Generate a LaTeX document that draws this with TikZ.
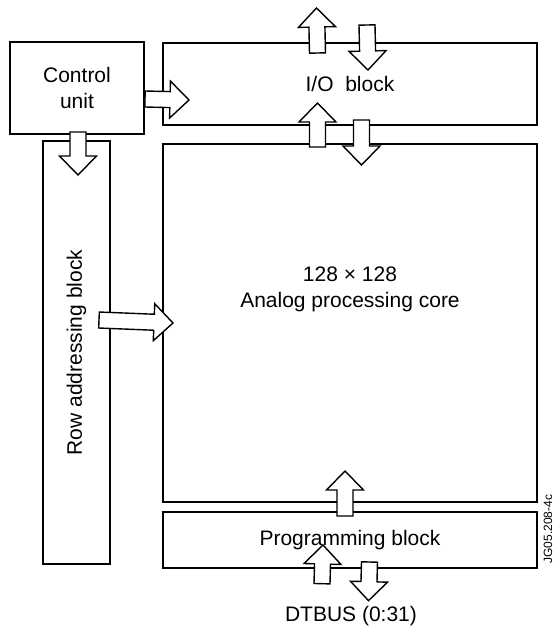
\documentclass[tikz,border=0pt]{standalone}
\usepackage{fontspec}
\setmainfont{Liberation Sans}
\usepackage{tikz}
\usetikzlibrary{positioning, calc}

\begin{document}
\begin{tikzpicture}[
    x=1pt, y=-1pt,
    every node/.style={font=\fontsize{21}{26}\selectfont},
    block/.style={draw, line width=2pt, align=center, inner sep=0pt},
    bus/.style={draw, line width=1.4pt, fill=white, line join=miter, to path={
      let \p1=(\tikztostart), \p2=(\tikztotarget), \n1={atan2(\y2-\y1,\x2-\x1)} in
      ($(\p1)+({\n1+90}:8pt)$) -- ($(\p2)+({\n1+180}:19pt)+({\n1+90}:8pt)$)
      -- ($(\p2)+({\n1+180}:19pt)+({\n1+90}:18.5pt)$) -- (\p2)
      -- ($(\p2)+({\n1+180}:19pt)+({\n1-90}:18.5pt)$) -- ($(\p2)+({\n1+180}:19pt)+({\n1-90}:8pt)$)
      -- ($(\p1)+({\n1-90}:8pt)$) -- cycle}}
  ]
    \useasboundingbox (0,0) rectangle (554,633);

    \node[block, minimum width=134pt, minimum height=92pt] (ctrl) at (77,88) {Control\\unit};
    \node[block, minimum width=374pt, minimum height=82pt, anchor=north west] (io) at (162,42) {I/O\ \ block};
    \node[block, minimum width=374pt, minimum height=358pt, below=17pt of io] (core) {};
    \node[align=center] (coretext) at ($(core.center)+(0,-34)$) {128 × 128\\Analog processing core};
    \node[block, minimum width=374pt, minimum height=56pt, below=8pt of core] (prog) {Programming block};
    \node[block, rotate=90, minimum width=423pt, minimum height=67pt] (row) at (76.5,352.5) {Row addressing block};
    \node (dtbus) at (351,616) {DTBUS (0:31)};
    \node[font=\fontsize{12}{14}\selectfont, rotate=90, inner sep=0pt] (tag) at (548,529) {JG05.208-4c};

    \coordinate (ioout) at (316.5,8);
    \coordinate (ioin) at (367,25);

    \draw[bus] ($(io.north)+(-32.5,11)$) to (ioout);
    \draw[bus] (ioin) to ($(io.north)+(18,28)$);
    \draw[bus] ($(ctrl.east)+(0,11)$) to ($(io.west)+(27,16)$);
    \draw[bus] ($(core.north)+(-32.5,4)$) to ($(io.south)+(-32.5,-23)$);
    \draw[bus] ($(io.south)+(11.5,-6)$) to ($(core.north)+(11.5,22)$);
    \draw[bus] ($(ctrl.south)+(1,-3)$) to ($(row.east)+(1.5,35)$);
    \draw[bus] ($(row.south)+(-12,-32.5)$) to ($(core.west)+(11,0)$);
    \draw[bus] ($(prog.north)+(-5,5)$) to ($(core.south)+(-5,-32)$);
    \draw[bus] ($(dtbus.north)+(-29,-19)$) to ($(prog.south)+(-27,-24)$);
    \draw[bus] ($(prog.south)+(19.5,-7)$) to ($(dtbus.north)+(17.5,-2)$);

  \end{tikzpicture}
\end{document}
